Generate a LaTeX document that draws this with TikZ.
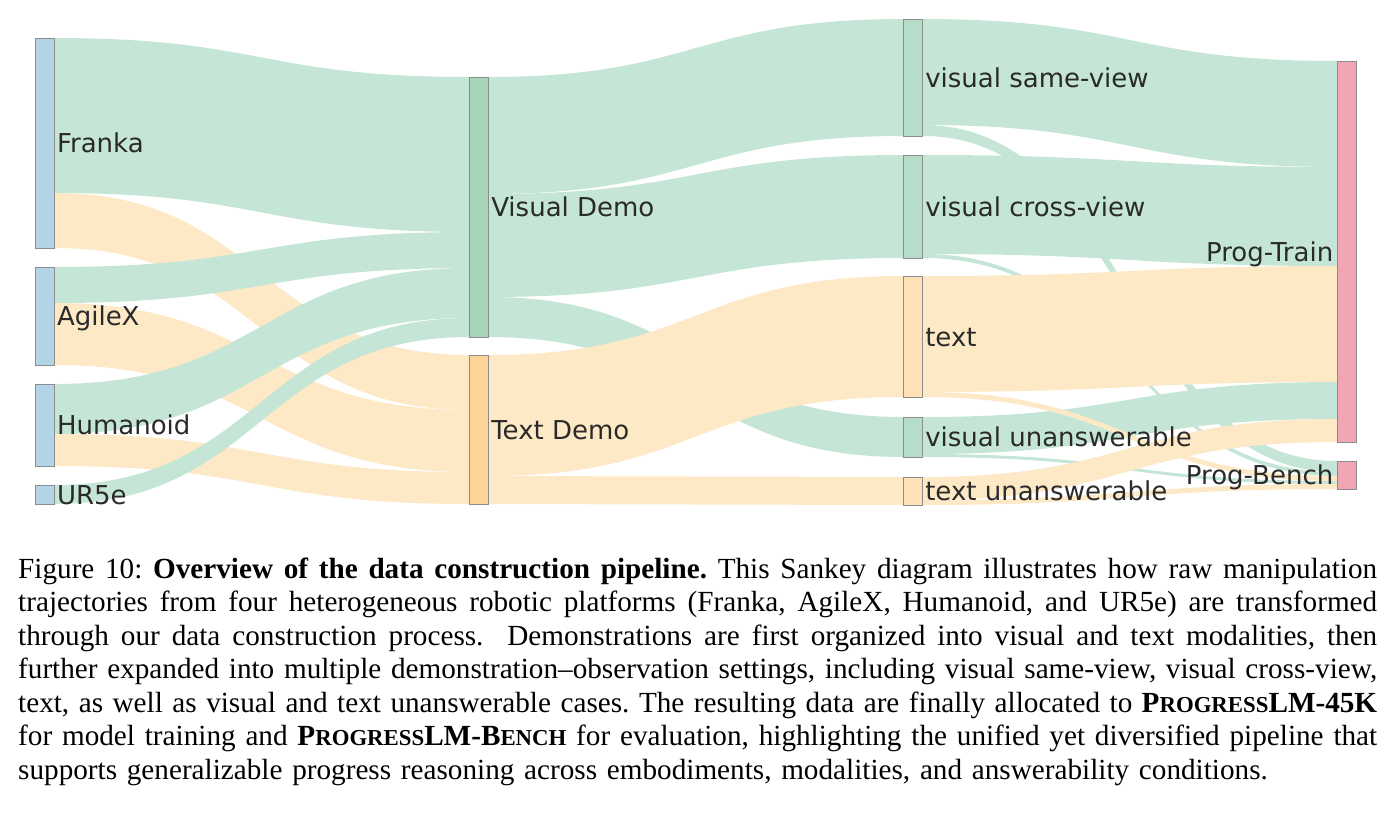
\documentclass[tikz,border=0pt]{standalone}
\usepackage{fontspec}
\setmainfont{Liberation Serif}
\newfontfamily\sankeyfont{DejaVu Sans}
\usepackage{xcolor}
\usepackage{tikz}
\usetikzlibrary{positioning,calc,backgrounds}
\definecolor{nodeblue}{RGB}{179,211,230}
\definecolor{vdgreen}{RGB}{166,213,185}
\definecolor{tdorange}{RGB}{254,212,153}
\definecolor{setgreen}{RGB}{180,222,200}
\definecolor{setorange}{RGB}{254,225,180}
\definecolor{progpink}{RGB}{240,166,181}
\definecolor{flowgreen}{RGB}{197,230,214}
\definecolor{floworange}{RGB}{254,233,198}
\definecolor{barline}{RGB}{140,140,140}
\definecolor{labelgray}{RGB}{42,42,42}
\tikzset{
  bar/.style={draw=barline,line width=0.7pt,minimum width=19.5pt,
    inner sep=0pt,outer sep=0pt},
  lbl/.style={font={\sankeyfont\fontsize{26}{30}\selectfont},text=labelgray,
    inner sep=0pt,outer sep=0pt,text height=19pt,text depth=0pt},
  greenflow/.style={fill=flowgreen},
  orangeflow/.style={fill=floworange},
  caption/.style={font={\fontsize{29.2}{33.5}\selectfont\frenchspacing},
    inner sep=0pt,align=left,text width=1359pt}
}
% ribbon: style, source, offset, target, offset, width
\newcommand{\flow}[6]{%
  \fill[#1] let \p1=($(#2.north east)+(0,#3)$), \p2=($(#4.north west)+(0,#5)$),
    \p3=($(\p2)+(0,#6)$), \p4=($(\p1)+(0,#6)$), \p5=($(\p1)!0.5!(\p2)$) in
    (\p1) .. controls (\x5,\y1) and (\x5,\y2) .. (\p2) -- (\p3)
    .. controls (\x5,\y3) and (\x5,\y4) .. (\p4) -- cycle;}
\newcommand{\capline}[1]{\leavevmode\hbox to 1359pt{\spaceskip=0.25em plus 0.5em minus 0.12em\relax #1}}
\newcommand{\fsc}[1]{{\fontsize{22.8}{33.5}\selectfont #1}}

\begin{document}
\begin{tikzpicture}[x={(1pt,0)},y={(0,-1pt)}]
  \useasboundingbox (0,0) rectangle (1395,817);
  % robots
  \node[bar,fill=nodeblue,minimum height=210pt] (franka) at (44.75,143) {};
  \node[bar,fill=nodeblue,minimum height=98pt] (agilex) at (44.75,316) {};
  \node[bar,fill=nodeblue,minimum height=82pt] (humanoid) at (44.75,425) {};
  \node[bar,fill=nodeblue,minimum height=19pt] (ur5e) at (44.75,494.5) {};
  % demo modality
  \node[bar,fill=vdgreen,minimum height=260pt] (visdemo) at (479,207) {};
  \node[bar,fill=tdorange,minimum height=149pt] (txtdemo) at (479,429.5) {};
  % settings
  \node[bar,fill=setgreen,minimum height=117pt] (same) at (913,77.5) {};
  \node[bar,fill=setgreen,minimum height=103pt] (cross) at (913,206.5) {};
  \node[bar,fill=setorange,minimum height=121pt] (text) at (913,336.5) {};
  \node[bar,fill=setgreen,minimum height=40pt] (vunans) at (913,437) {};
  \node[bar,fill=setorange,minimum height=28pt] (tunans) at (913,491) {};
  % splits
  \node[bar,fill=progpink,minimum height=381pt] (train) at (1347,251.5) {};
  \node[bar,fill=progpink,minimum height=28pt] (bench) at (1347,475) {};

  \node[lbl,right=2.5pt of franka] (frankalbl) {Franka};
  \node[lbl,right=2.5pt of agilex] (agilexlbl) {AgileX};
  \node[lbl,right=2.5pt of humanoid] (humanoidlbl) {Humanoid};
  \node[lbl,right=2.5pt of ur5e] (ur5elbl) {UR5e};
  \node[lbl,right=2.5pt of visdemo] (visdemolbl) {Visual Demo};
  \node[lbl,right=2.5pt of txtdemo] (txtdemolbl) {Text Demo};
  \node[lbl,right=2.5pt of same] (samelbl) {visual same-view};
  \node[lbl,right=2.5pt of cross] (crosslbl) {visual cross-view};
  \node[lbl,right=2.5pt of text] (textlbl) {text};
  \node[lbl,right=2.5pt of vunans] (vunanslbl) {visual unanswerable};
  \node[lbl,right=2.5pt of tunans] (tunanslbl) {text unanswerable};
  \node[lbl,left=4pt of train] (trainlbl) {Prog-Train};
  \node[lbl,left=4pt of bench] (benchlbl) {Prog-Bench};

  \begin{pgfonlayer}{background}
    \flow{greenflow}{franka}{0}{visdemo}{0}{155}
    \flow{orangeflow}{franka}{155}{txtdemo}{0}{55}
    \flow{greenflow}{agilex}{0}{visdemo}{155}{36}
    \flow{orangeflow}{agilex}{36}{txtdemo}{55}{62}
    \flow{greenflow}{humanoid}{0}{visdemo}{191}{50}
    \flow{orangeflow}{humanoid}{50}{txtdemo}{117}{32}
    \flow{greenflow}{ur5e}{0}{visdemo}{241}{19}
    \flow{greenflow}{visdemo}{0}{same}{0}{117}
    \flow{greenflow}{visdemo}{117}{cross}{0}{103}
    \flow{greenflow}{visdemo}{220}{vunans}{0}{40}
    \flow{orangeflow}{txtdemo}{0}{text}{0}{121}
    \flow{orangeflow}{txtdemo}{121}{tunans}{0}{28}
    \flow{greenflow}{same}{0}{train}{0}{106}
    \flow{greenflow}{same}{106}{bench}{0}{11}
    \flow{greenflow}{cross}{0}{train}{106}{99}
    \flow{greenflow}{cross}{99}{bench}{11}{4}
    \flow{orangeflow}{text}{0}{train}{205}{116}
    \flow{greenflow}{vunans}{0}{train}{321}{37}
    \flow{greenflow}{vunans}{37}{bench}{20}{3}
    \flow{orangeflow}{text}{116}{bench}{15}{5}
    \flow{orangeflow}{tunans}{0}{train}{358}{23}
    \flow{orangeflow}{tunans}{23}{bench}{23}{5}
  \end{pgfonlayer}

  \node[caption,anchor=base west] (cap) at (18,578) {%
    \capline{Figure 10: \textbf{Overview of the data construction pipeline.} This Sankey diagram illustrates how raw manipulation}\\
    \capline{trajectories from four heterogeneous robotic platforms (Franka, AgileX, Humanoid, and UR5e) are transformed}\\
    \capline{through our data construction process.\ \ Demonstrations are first organized into visual and text modalities, then}\\
    \capline{further expanded into multiple demonstration--observation settings, including visual same-view, visual cross-view,}\\
    \capline{text, as well as visual and text unanswerable cases. The resulting data are finally allocated to \textbf{P\fsc{ROGRESS}LM-45K}}\\
    \capline{for model training and \textbf{P\fsc{ROGRESS}LM-B\fsc{ENCH}} for evaluation, highlighting the unified yet diversified pipeline that}\\
    supports generalizable progress reasoning across embodiments, modalities, and answerability conditions.};
\end{tikzpicture}
\end{document}
